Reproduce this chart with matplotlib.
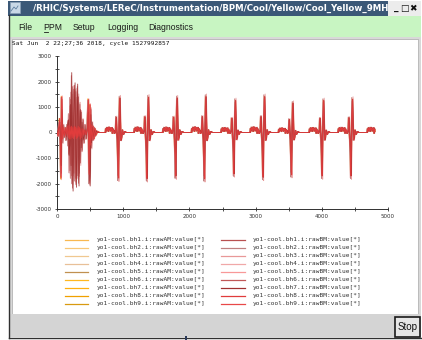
import numpy as np
import matplotlib
matplotlib.use("Agg")
import matplotlib.pyplot as plt
from matplotlib.patches import Rectangle

plt.rcParams['axes.unicode_minus'] = False

W, H = 422, 340

# ---------------- texts ----------------
title = "/RHIC/Systems/LEReC/Instrumentation/BPM/Cool/Yellow/Cool_Yellow_9MH"
menu_items = ["File", "PPM", "Setup", "Logging", "Diagnostics"]
stamp = "Sat Jun  2 22;27;36 2018, cycle 1527992857"
names_A = ["yo1-cool.bh%d.i:rawAM:value[*]" % i for i in range(1, 10)]
names_B = ["yo1-cool.bh%d.i:rawBM:value[*]" % i for i in range(1, 10)]
x_ticks = [0, 1000, 2000, 3000, 4000, 5000]
y_ticks = [-3000, -2000, -1000, 0, 1000, 2000, 3000]

colors_A = ['#f8b850', '#f8c878', '#f0c890', '#e8c098', '#c09050',
            '#ffb820', '#ffb010', '#f0a000', '#d89a10']
colors_B = ['#b85050', '#c08080', '#e89898', '#f0a8a8', '#f89898',
            '#c05858', '#a03030', '#e03c3c', '#e84848']

# ---------------- data ----------------
early_x = [0, 15, 30, 40, 50, 60, 70, 82, 95, 110, 125, 140, 155, 170, 180,
           190, 200, 210, 220, 230, 240, 250, 260, 270, 280, 290, 300, 310, 320,
           330, 340, 350, 362, 375, 390, 405, 420, 440, 458, 472, 485, 498, 508,
           518, 530, 545, 560, 575, 590, 610, 640]
early_red = [0, -120, 250, 550, -300, -1800, 1400, -250, 200, -150,
             180, -120, 250, -200, 300, -250, 220, -260, 250, -200,
             200, -250, 250, -150, 220, -250, 180, -200, 250, -150,
             200, -250, 150, -200, 150, -100, 100, -80, 120, 1300,
             -1650, 1100, -500, 300, -300, 250, -250, 150, -100, 50, 0]
early_dark = [0, 100, 200, 300, -200, -1300, 900, -100, 100, -80,
              100, -150, 200, 500, -900, -500, 1100, -1300, 2350, -800,
              -2300, 600, 1300, 1950, -900, -2150, 500, 1900, -400, -2100,
              300, 900, -600, 400, -300, -150, 100, -100, 200, 800,
              -1200, -2100, 700, -400, 200, -150, 100, -80, 50, 0, 0]
early_pink = [0, -150, 300, 400, -400, -1600, 1300, -400, 300, -200,
              200, -300, 300, -500, 700, -1500, 1300, -1700, 1500, -1900,
              1700, -1600, 1500, -1800, 1600, -1500, 1300, -1700, 1400, -1600,
              1100, -1200, 800, -700, 500, -400, 300, -250, 300, 1200,
              -1900, -1500, 900, -600, 400, -300, 200, -150, 80, 0, 0]

# regular pulses: centre (negative peak), positive and negative peak values
pulse_c = [926, 1358, 1792, 2226, 2672, 3112, 3540, 4004, 4440, 4880]
pulse_hi = [1350, 1380, 1350, 1400, 1250, 1400, 1150, 1250, 1300, 1300]
pulse_lo = [-1780, -1800, -1700, -1800, -1620, -1750, -1650, -1700, -1700, -1700]
# one pulse (offset from centre, value)
tmpl_dx = [-215, -195, -188, -180, -172, -165, -157, -150, -142, -135,
           -127, -120, -112, -105, -97, -90, -82, -75, -67, -60,
           -50, -40, -32, -25, -15, -7, 0, 7, 15, 22,
           30, 38, 48, 60, 75, 95, 120, 200]
tmpl_y = [0, 0, 150, 60, 200, 100, 170, 40, 210, 120,
          190, 60, 160, 90, 190, -30, 140, 30, 90, -40,
          0, 100, 600, 100, -300, -900, -1750, -200, 700, 1350,
          400, -300, -200, 100, -80, 40, 0, 0]
TMPL_HI, TMPL_LO = 1350, -1750
x_end = 4805

early_A = ['red'] * 9
gain_A = [0.95, 0.9, 1.0, 0.92, 0.97, 1.02, 0.93, 1.0, 0.96]
shift_A = [4, -6, 8, -4, 2, -8, 6, 0, -2]
early_B = ['pink', 'pink', 'pink', 'pink', 'red', 'dark', 'dark', 'red', 'red']
gain_B = [1.0, 1.06, 1.08, 1.05, 1.03, 0.95, 1.0, 1.0, 0.98]
shift_B = [6, -8, 10, -10, 8, -4, 3, 0, 2]

early_shapes = {'red': early_red, 'dark': early_dark, 'pink': early_pink}


def build(shape, gain, shift):
    xs = list(early_x)
    ys = list(early_shapes[shape])
    for c, hi, lo in zip(pulse_c, pulse_hi, pulse_lo):
        for dx, t in zip(tmpl_dx, tmpl_y):
            xs.append(c + dx)
            ys.append(t * hi / TMPL_HI if t > 0 else t * lo / TMPL_LO)
    xs = np.array(xs, float) + shift
    ys = np.array(ys, float) * gain
    keep = xs <= x_end
    return xs[keep], ys[keep]


# ---------------- figure ----------------
fig = plt.figure(figsize=(W / 100, H / 100), dpi=100)
bg = fig.add_axes([0, 0, 1, 1])
bg.set_xlim(0, W)
bg.set_ylim(H, 0)
bg.axis('off')

def rect(x, y, w, h, fc, ec='none', lw=0, z=1):
    bg.add_patch(Rectangle((x, y), w, h, facecolor=fc, edgecolor=ec, linewidth=lw, zorder=z))

rect(0, 0, W, H, 'white', z=0)
# title bar
rect(8, 0.5, 380, 15, '#3b5877')
rect(388, 0.5, 33, 15, '#ececec')
rect(9.5, 2, 10, 11, '#c9d8e6', ec='#8aa0b8', lw=0.5, z=2)
bg.plot([11, 14, 16, 18], [11, 7, 9, 6], color='#5f7fa0', lw=0.6, zorder=3)
tt = bg.text(33, 8.3, title, color='white', fontweight='bold',
             family=['Liberation Sans Narrow', 'DejaVu Sans'], fontsize=7.5,
             va='center', ha='left', zorder=3)
for gx, g in zip([396.5, 404.5, 412.5], ['_', '\u25a1', '\u2716']):
    bg.text(gx, 8.3, g, color='#101010', fontsize=6.5, fontweight='bold',
            family='DejaVu Sans', va='center', ha='center', zorder=3)
# menu bar
rect(9, 16, 412, 21, '#c8f5c2')
menu_x = [18, 43, 73, 107, 148]
for mx, m in zip(menu_x, menu_items):
    bg.text(mx, 27, m, fontsize=6.2, family='Liberation Sans', color='#1a1a1a',
            va='center', ha='left', zorder=3)
bg.plot([43.5, 48], [31.5, 31.5], color='#1a1a1a', lw=0.6, zorder=3)
# window frame
rect(9, 37, 412, 277, '#d8d8d8')
rect(12, 38.5, 406, 275, 'white', ec='#a8a8a8', lw=0.5, z=1.5)
rect(9, 313.8, 412, 23.5, '#d4d4d4', z=1.6)
bg.plot([8.5, 8.5], [15, 337.8], color='#303030', lw=1.0, zorder=3)
bg.plot([8.5, 421], [337.8, 337.8], color='#303030', lw=1.0, zorder=3)
rect(394.5, 317, 25.5, 19.5, '#e6e6e6', ec='#1a1a1a', lw=1.2, z=3)
bg.text(407.3, 326.8, 'Stop', fontsize=7, family='Liberation Sans', color='#101010',
        va='center', ha='center', zorder=4)
rect(185, 335.5, 1.6, 4.5, '#2a3a5a', z=4)
# timestamp
bg.text(12, 44, stamp, fontsize=4.45, family='DejaVu Sans Mono', color='#101010',
        va='center', ha='left', zorder=3)

# legend
for i in range(9):
    y = 240 + 8 * i
    bg.plot([65, 88], [y, y], color=colors_A[i], lw=0.9, zorder=3)
    bg.text(97, y, names_A[i], fontsize=4.4, family='DejaVu Sans Mono',
            color='#303030', va='center', ha='left', zorder=3)
    bg.plot([221, 245], [y, y], color=colors_B[i], lw=0.9, zorder=3)
    bg.text(253, y, names_B[i], fontsize=4.4, family='DejaVu Sans Mono',
            color='#303030', va='center', ha='left', zorder=3)

# plot axes
ax = fig.add_axes([57 / W, (H - 209) / H, 331 / W, 153 / H])
ax.patch.set_alpha(0)
order_B = [2, 3, 4, 1, 0, 5, 8, 6, 7]
for i in range(9):
    xs, ys = build(early_A[i], gain_A[i], shift_A[i])
    ax.plot(xs, ys, color=colors_A[i], lw=0.5, zorder=2 + i * 0.01)
for k, i in enumerate(order_B):
    xs, ys = build(early_B[i], gain_B[i], shift_B[i])
    ax.plot(xs, ys, color=colors_B[i], lw=0.55, zorder=3 + k * 0.01)

ax.set_xlim(0, 5000)
ax.set_ylim(-3000, 3000)
ax.set_xticks(x_ticks)
ax.set_yticks(y_ticks)
ax.set_xticks(np.arange(500, 5000, 1000), minor=True)
ax.set_yticks(np.arange(-2500, 3000, 1000), minor=True)
for s in ['top', 'right']:
    ax.spines[s].set_visible(False)
for s in ['left', 'bottom']:
    ax.spines[s].set_color('#303030')
    ax.spines[s].set_linewidth(0.7)
ax.tick_params(which='both', direction='inout', length=3.5, width=0.6,
               colors='#303030', labelsize=4, pad=2)
ax.tick_params(which='both', labelcolor='#303030')

# fit title text width to the reference (33 .. 387 px)
fig.canvas.draw()
r = fig.canvas.get_renderer()
wpx = tt.get_window_extent(r).width
tt.set_fontsize(7.5 * 354 / wpx)

fig.savefig('out.png', dpi=100)
